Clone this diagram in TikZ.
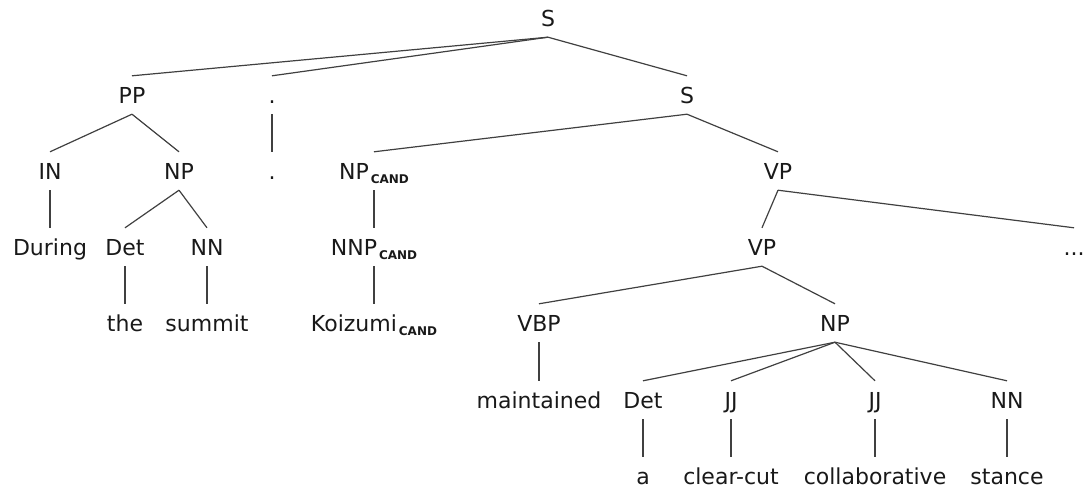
\documentclass[tikz,border=0pt]{standalone}
\usepackage{fontspec}
\setmainfont{DejaVu Sans}
\newcommand{\cand}{\raisebox{-4pt}{\fontsize{12}{12}\selectfont\bfseries CAND}}
\begin{document}
\begin{tikzpicture}[x=1pt,y=-1pt,
  lab/.style={font=\fontsize{22}{24}\selectfont, text=black!90, text height=16pt, text depth=0pt, inner ysep=11pt, inner xsep=0pt, anchor=center},
  br/.style={draw=black!75, line width=1.2pt}]
\useasboundingbox (0,0) rectangle (1085,493);
% level 0
\node[lab] (S0) at (548,18) {S};
% level 1
\node[lab] (PP) at (132,95) {PP};
\node[lab] (P1) at (272,95) {.};
\node[lab] (S1) at (687,95) {S};
% level 2
\node[lab] (IN) at (50,171) {IN};
\node[lab] (NP1) at (179,171) {NP};
\node[lab] (P2) at (272,171) {.};
\node[lab] (NPC) at (374,171) {NP\kern2pt\cand};
\node[lab] (VP1) at (778,171) {VP};
% level 3
\node[lab] (During) at (50,247) {During};
\node[lab] (Det1) at (125,247) {Det};
\node[lab] (NN1) at (207,247) {NN};
\node[lab] (NNPC) at (374,247) {NNP\kern2pt\cand};
\node[lab] (VP2) at (762,247) {VP};
\node[lab] (Dots) at (1074,247) {...};
% level 4
\node[lab] (the) at (125,323) {the};
\node[lab] (summit) at (207,323) {summit};
\node[lab] (Koiz) at (374,323) {Koizumi\kern2pt\cand};
\node[lab] (VBP) at (539,323) {VBP};
\node[lab] (NP2) at (835,323) {NP};
% level 5
\node[lab] (maint) at (539,400) {maintained};
\node[lab] (Det2) at (643,400) {Det};
\node[lab] (JJ1) at (731,400) {JJ};
\node[lab] (JJ2) at (875,400) {JJ};
\node[lab] (NN2) at (1007,400) {NN};
% level 6
\node[lab] (a) at (643,476) {a};
\node[lab] (clear) at (731,476) {clear-cut};
\node[lab] (collab) at (875,476) {collaborative};
\node[lab] (stance) at (1007,476) {stance};
% branches
\draw[br] (S0.south) -- (PP.north);
\draw[br] (S0.south) -- (P1.north);
\draw[br] (S0.south) -- (S1.north);
\draw[br] (PP.south) -- (IN.north);
\draw[br] (PP.south) -- (NP1.north);
\draw[br] (P1.south) -- (P2.north);
\draw[br] (S1.south) -- (NPC.north);
\draw[br] (S1.south) -- (VP1.north);
\draw[br] (IN.south) -- (During.north);
\draw[br] (NP1.south) -- (Det1.north);
\draw[br] (NP1.south) -- (NN1.north);
\draw[br] (NPC.south) -- (NNPC.north);
\draw[br] (VP1.south) -- (VP2.north);
\draw[br] (VP1.south) -- (Dots.north);
\draw[br] (Det1.south) -- (the.north);
\draw[br] (NN1.south) -- (summit.north);
\draw[br] (NNPC.south) -- (Koiz.north);
\draw[br] (VP2.south) -- (VBP.north);
\draw[br] (VP2.south) -- (NP2.north);
\draw[br] (VBP.south) -- (maint.north);
\draw[br] (NP2.south) -- (Det2.north);
\draw[br] (NP2.south) -- (JJ1.north);
\draw[br] (NP2.south) -- (JJ2.north);
\draw[br] (NP2.south) -- (NN2.north);
\draw[br] (Det2.south) -- (a.north);
\draw[br] (JJ1.south) -- (clear.north);
\draw[br] (JJ2.south) -- (collab.north);
\draw[br] (NN2.south) -- (stance.north);
\end{tikzpicture}
\end{document}
